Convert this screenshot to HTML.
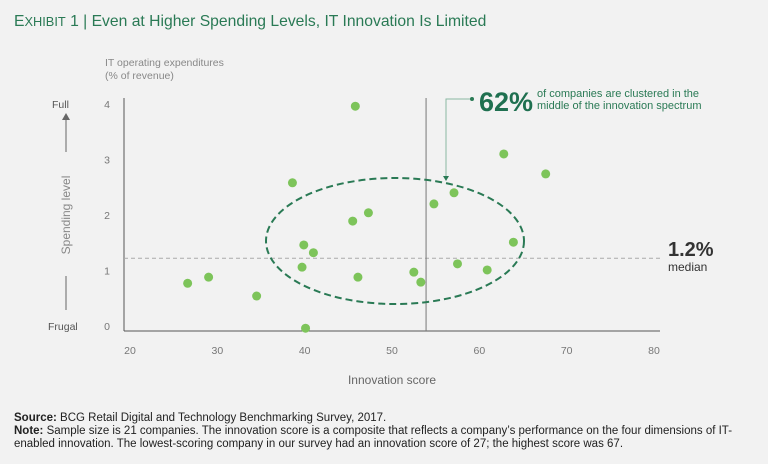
<!DOCTYPE html>
<html><head><meta charset="utf-8"><style>
body{margin:0;background:#f2f2f2;font-family:"Liberation Sans",sans-serif;}
svg{display:block}
</style></head><body>
<svg width="768" height="464" viewBox="0 0 768 464">
<rect width="768" height="464" fill="#f2f2f2"/>
<text x="14" y="26" font-size="15.7" fill="#2a7a55">E<tspan font-size="12.8">XHIBIT</tspan> 1 | Even at Higher Spending Levels, IT Innovation Is Limited</text>
<text x="105" y="66" font-size="10.5" fill="#888">IT operating expenditures</text>
<text x="105" y="79" font-size="10.5" fill="#888">(% of revenue)</text>
<text x="52" y="108" font-size="10.5" fill="#555">Full</text>
<text x="48" y="330" font-size="10.5" fill="#555">Frugal</text>
<line x1="66" y1="152" x2="66" y2="118" stroke="#666"/>
<polygon points="62,120 70,120 66,113" fill="#666"/>
<line x1="66" y1="276" x2="66" y2="310" stroke="#666"/>
<text transform="translate(70,215) rotate(-90)" text-anchor="middle" font-size="12" fill="#888">Spending level</text>
<g id="plot"></g>
<text x="392" y="384" text-anchor="middle" font-size="12" fill="#666">Innovation score</text>
<text x="668" y="256" font-size="20" font-weight="bold" fill="#333">1.2%</text>
<text x="668" y="271" font-size="12" fill="#333">median</text>
<polyline points="472,99 446,99 446,176" fill="none" stroke="#8ab8a3"/>
<circle cx="472" cy="99" r="2" fill="#2a7a55"/>
<polygon points="443,176 449,176 446,181" fill="#2a7a55"/>
<text x="479" y="111" font-size="27" font-weight="bold" fill="#1f7050">62%</text>
<text x="537" y="97" font-size="11" fill="#2a7a55">of companies are clustered in the</text>
<text x="537" y="109" font-size="11" fill="#2a7a55">middle of the innovation spectrum</text>
<text x="14" y="421" font-size="11.5" fill="#222"><tspan font-weight="bold">Source:</tspan> BCG Retail Digital and Technology Benchmarking Survey, 2017.</text>
<text x="14" y="434" font-size="11.5" fill="#222"><tspan font-weight="bold">Note:</tspan> Sample size is 21 companies. The innovation score is a composite that reflects a company’s performance on the four dimensions of IT-</text>
<text x="14" y="447" font-size="11.5" fill="#222">enabled innovation. The lowest-scoring company in our survey had an innovation score of 27; the highest score was 67.</text>
</svg>
<script>
const xTicks=[20,30,40,50,60,70,80];
const yTicks=[0,1,2,3,4];
const scores=[45.8,62.8,67.6,38.6,54.8,57.1,47.3,45.5,39.9,41.0,63.9,39.7,57.5,60.9,52.5,46.1,53.3,29.0,26.6,34.5,40.1];
const spending=[3.96,3.1,2.74,2.58,2.2,2.4,2.04,1.89,1.46,1.32,1.51,1.06,1.12,1.01,0.97,0.88,0.79,0.88,0.77,0.54,-0.04];
const medianSpend=[1.22];
const medianScore=[53.9];
const NS="http://www.w3.org/2000/svg";
const X=v=>130+(v-20)*(524/60);
const Y=v=>326-v*55.5;
const g=document.getElementById('plot');
function mk(t,a){const e=document.createElementNS(NS,t);for(const k in a)e.setAttribute(k,a[k]);g.appendChild(e);return e;}
let e;
e=mk('line',{x1:124,y1:98,x2:124,y2:331,stroke:'#555'});


e=mk('line',{x1:124,y1:331,x2:660,y2:331,stroke:'#555'});


xTicks.forEach(t=>{const tx=mk('text',{x:X(t),y:354,'text-anchor':'middle','font-size':10.5,fill:'#777','font-family':'Liberation Sans'});tx.textContent=t;

});
yTicks.forEach(t=>{const tx=mk('text',{x:110,y:Y(t)+4,'text-anchor':'end','font-size':10.5,fill:'#777','font-family':'Liberation Sans'});tx.textContent=t;

});
e=mk('line',{x1:124,y1:Y(medianSpend[0]),x2:663,y2:Y(medianSpend[0]),stroke:'#aaa','stroke-dasharray':'4,3'});


e=mk('line',{x1:X(medianScore[0]),y1:98,x2:X(medianScore[0]),y2:331,stroke:'#777'});


e=mk('ellipse',{cx:395,cy:241,rx:129,ry:63,fill:'none',stroke:'#2a7a55','stroke-width':2,'stroke-dasharray':'7,4'});


scores.forEach((s,i)=>{const c=mk('circle',{cx:X(s),cy:Y(spending[i]),r:4.5,fill:'#7dc45a'});

});
</script>
</body></html>
